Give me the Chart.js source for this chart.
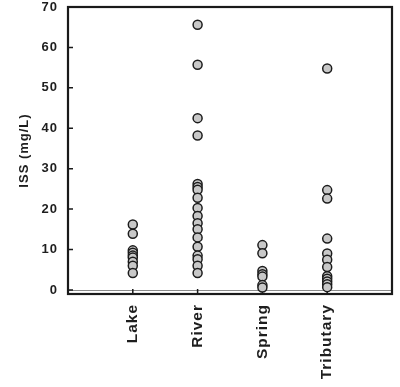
<!DOCTYPE html>
<html lang="en">
<head>
  <meta charset="UTF-8">
  <title>ISS by source</title>
  <script src="https://cdn.jsdelivr.net/npm/chart.js"></script>
  <style>
    html, body { margin: 0; padding: 0; background: #fff; }
    #wrap { width: 400px; height: 387px; }
  </style>
</head>
<body>
  <div id="wrap"><canvas id="issChart"></canvas></div>
  <script>
    const categories = ['Lake', 'River', 'Spring', 'Tributary']
    const lake = [16.2, 13.9, 9.8, 9.2, 8.5, 8.0, 7.0, 6.0, 4.2]
    const river = [65.6, 55.7, 42.5, 38.2, 26.2, 25.5, 24.8, 22.8, 20.3, 18.3, 16.5, 15.0, 13.0, 10.7, 8.5, 7.6, 6.0, 4.2]
    const spring = [11.1, 9.1, 4.7, 3.9, 3.3, 1.2, 0.6]
    const tributary = [54.8, 24.7, 22.6, 12.7, 9.0, 7.5, 5.7, 3.4, 2.8, 2.1, 1.4, 0.7]
    const yTicks = [0, 10, 20, 30, 40, 50, 60, 70]
    const groups = [lake, river, spring, tributary]

    const textColor = '#1e1e1e'

    const frame = {
      id: 'frame',
      beforeDraw(chart) {
        // the original lettering is spaced a little wider than plain Arial bold
        // (set here because resizing the canvas resets the context state)
        chart.ctx.letterSpacing = '1px'
      },
      beforeDatasetsDraw(chart) {
        const { ctx, chartArea: a, scales: { x, y } } = chart
        ctx.save()
        // thin line at zero
        const y0 = Math.round(y.getPixelForValue(0)) + 0.5
        ctx.strokeStyle = '#8a8a8a'
        ctx.lineWidth = 1
        ctx.beginPath()
        ctx.moveTo(a.left, y0)
        ctx.lineTo(a.right, y0)
        ctx.stroke()
        // inward tick marks
        ctx.strokeStyle = '#1a1a1a'
        ctx.lineWidth = 1.5
        ctx.beginPath()
        yTicks.forEach(v => {
          const p = y.getPixelForValue(v)
          ctx.moveTo(a.left, p)
          ctx.lineTo(a.left + 5, p)
        })
        categories.forEach((c, i) => {
          const p = x.getPixelForValue(i + 1)
          ctx.moveTo(p, a.bottom)
          ctx.lineTo(p, a.bottom - 5)
        })
        ctx.stroke()
        ctx.restore()
      },
      afterDraw(chart) {
        const { ctx, chartArea: a } = chart
        ctx.save()
        ctx.strokeStyle = '#1a1a1a'
        ctx.lineWidth = 2.2
        ctx.strokeRect(a.left, a.top, a.right - a.left, a.bottom - a.top)
        ctx.restore()
      }
    }

    new Chart(document.getElementById('issChart'), {
      type: 'scatter',
      data: {
        datasets: groups.map((vals, i) => ({
          label: categories[i],
          data: vals.map(v => ({ x: i + 1, y: v })),
          backgroundColor: '#c8c8c8',
          borderColor: '#1c1c1c',
          borderWidth: 1.5,
          pointRadius: 4.5,
          clip: false,
        })),
      },
      options: {
        responsive: true,
        maintainAspectRatio: false,
        animation: false,
        layout: { padding: { top: 7, right: 8, left: 0, bottom: 0 } },
        plugins: {
          legend: { display: false },
          tooltip: { enabled: false },
        },
        scales: {
          x: {
            type: 'linear',
            min: 0,
            max: 5,
            grid: { display: false, drawTicks: false },
            border: { display: false },
            afterBuildTicks: (axis) => {
              axis.ticks = categories.map((c, i) => ({ value: i + 1 }))
            },
            afterFit: (axis) => {
              axis.height = 93
              axis.paddingLeft = 0
              axis.paddingRight = 0
            },
            ticks: {
              autoSkip: false,
              minRotation: 90,
              maxRotation: 90,
              padding: 10,
              color: textColor,
              font: { family: 'Liberation Sans', size: 15.5, weight: 'bold' },
              callback: (v) => categories[v - 1] ?? '',
            },
          },
          y: {
            min: -1,
            max: 70,
            grid: { display: false, drawTicks: false },
            border: { display: false },
            afterBuildTicks: (axis) => {
              axis.ticks = yTicks.map(v => ({ value: v }))
            },
            afterFit: (axis) => {
              axis.width = 68
              axis.paddingTop = 0
              axis.paddingBottom = 0
            },
            ticks: {
              padding: 10,
              color: textColor,
              font: { family: 'Liberation Sans', size: 13, weight: 'bold' },
            },
            title: {
              display: true,
              text: 'ISS (mg/L)',
              color: textColor,
              padding: { top: 17, bottom: 0 },
              font: { family: 'Liberation Sans', size: 13, weight: 'bold' },
            },
          },
        },
      },
      plugins: [frame],
    })
  </script>
</body>
</html>
